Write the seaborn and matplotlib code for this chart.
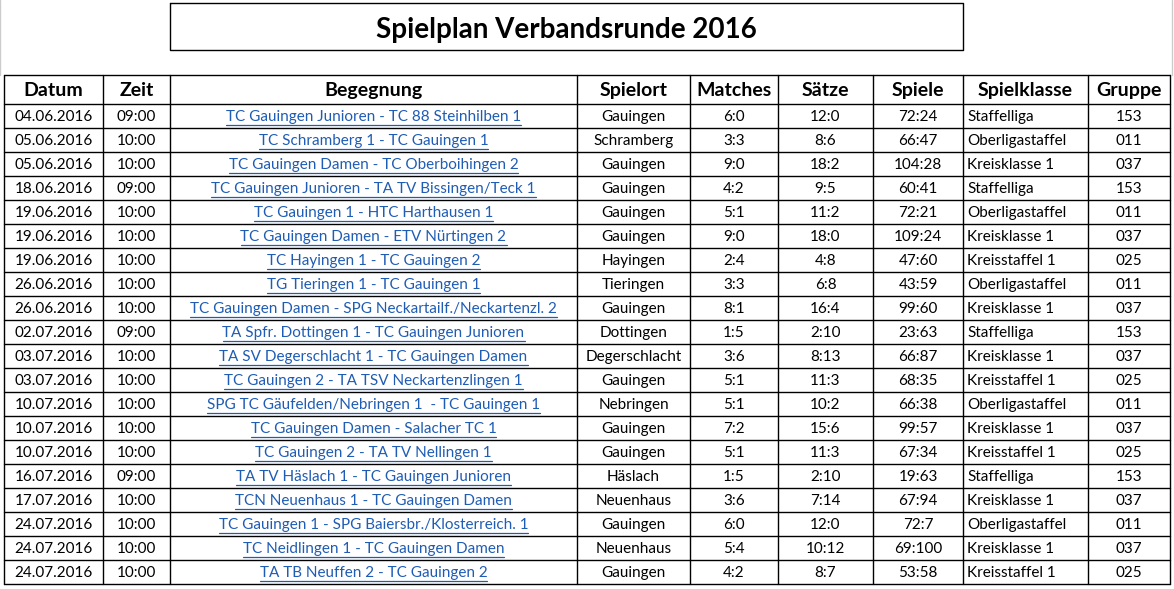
import matplotlib
matplotlib.use("Agg")
import matplotlib.pyplot as plt
import seaborn as sns

sns.set_theme(style="white", font="Lato")

title = "Spielplan Verbandsrunde 2016"
headers = ["Datum", "Zeit", "Begegnung", "Spielort", "Matches", "Sätze", "Spiele", "Spielklasse", "Gruppe"]
datum = ["04.06.2016","05.06.2016","05.06.2016","18.06.2016","19.06.2016","19.06.2016","19.06.2016","26.06.2016","26.06.2016","02.07.2016","03.07.2016","03.07.2016","10.07.2016","10.07.2016","10.07.2016","16.07.2016","17.07.2016","24.07.2016","24.07.2016","24.07.2016"]
zeit = ["09:00","10:00","10:00","09:00","10:00","10:00","10:00","10:00","10:00","09:00","10:00","10:00","10:00","10:00","10:00","09:00","10:00","10:00","10:00","10:00"]
begegnung = ["TC Gauingen Junioren - TC 88 Steinhilben 1","TC Schramberg 1 - TC Gauingen 1","TC Gauingen Damen - TC Oberboihingen 2","TC Gauingen Junioren - TA TV Bissingen/Teck 1","TC Gauingen 1 - HTC Harthausen 1","TC Gauingen Damen - ETV Nürtingen 2","TC Hayingen 1 - TC Gauingen 2","TG Tieringen 1 - TC Gauingen 1","TC Gauingen Damen - SPG Neckartailf./Neckartenzl. 2","TA Spfr. Dottingen 1 - TC Gauingen Junioren","TA SV Degerschlacht 1 - TC Gauingen Damen","TC Gauingen 2 - TA TSV Neckartenzlingen 1","SPG TC Gäufelden/Nebringen 1  - TC Gauingen 1","TC Gauingen Damen - Salacher TC 1","TC Gauingen 2 - TA TV Nellingen 1","TA TV Häslach 1 - TC Gauingen Junioren","TCN Neuenhaus 1 - TC Gauingen Damen","TC Gauingen 1 - SPG Baiersbr./Klosterreich. 1","TC Neidlingen 1 - TC Gauingen Damen","TA TB Neuffen 2 - TC Gauingen 2"]
spielort = ["Gauingen","Schramberg","Gauingen","Gauingen","Gauingen","Gauingen","Hayingen","Tieringen","Gauingen","Dottingen","Degerschlacht","Gauingen","Nebringen","Gauingen","Gauingen","Häslach","Neuenhaus","Gauingen","Neuenhaus","Gauingen"]
matches = ["6:0","3:3","9:0","4:2","5:1","9:0","2:4","3:3","8:1","1:5","3:6","5:1","5:1","7:2","5:1","1:5","3:6","6:0","5:4","4:2"]
saetze = ["12:0","8:6","18:2","9:5","11:2","18:0","4:8","6:8","16:4","2:10","8:13","11:3","10:2","15:6","11:3","2:10","7:14","12:0","10:12","8:7"]
spiele = ["72:24","66:47","104:28","60:41","72:21","109:24","47:60","43:59","99:60","23:63","66:87","68:35","66:38","99:57","67:34","19:63","67:94","72:7","69:100","53:58"]
spielklasse = ["Staffelliga","Oberligastaffel","Kreisklasse 1","Staffelliga","Oberligastaffel","Kreisklasse 1","Kreisstaffel 1","Oberligastaffel","Kreisklasse 1","Staffelliga","Kreisklasse 1","Kreisstaffel 1","Oberligastaffel","Kreisklasse 1","Kreisstaffel 1","Staffelliga","Kreisklasse 1","Oberligastaffel","Kreisklasse 1","Kreisstaffel 1"]
gruppe = ["153","011","037","153","011","037","025","011","037","153","037","025","011","037","025","153","037","011","037","025"]

cols = [datum, zeit, begegnung, spielort, matches, saetze, spiele, spielklasse, gruppe]
edges = [4, 103, 170, 577, 690, 778, 873, 963, 1088, 1170]
W, H = 1174, 589
fig = plt.figure(figsize=(W/100, H/100), dpi=100)
ax = fig.add_axes([0, 0, 1, 1])
ax.set_xlim(0, W); ax.set_ylim(H, 0); ax.axis("off")

# title box
ax.plot([170, 963, 963, 170, 170], [3, 3, 50, 50, 3], color="black", lw=1)
ax.text(566, 30, title, ha="center", va="center", fontsize=20, fontweight="bold", color="black")
ax.plot([0, 0], [0, 75], color="#cccccc", lw=1)
ax.plot([1172, 1172], [0, 75], color="#cccccc", lw=1)

top, hh, rh = 75, 29, 24
nrows = len(datum)
bottom = top + hh + rh * nrows
for i in range(nrows + 2):
    y = top if i == 0 else top + hh + rh * (i - 1)
    ax.plot([edges[0], edges[-1]], [y, y], color="black", lw=1)
for x in edges:
    ax.plot([x, x], [top, bottom], color="black", lw=1)

for j, h in enumerate(headers):
    ax.text((edges[j] + edges[j+1]) / 2, top + hh/2 + 1, h, ha="center", va="center",
            fontsize=14, fontweight="bold", color="black")

link = "#1f5cb4"
texts = []
for j, col in enumerate(cols):
    for i, v in enumerate(col):
        y = top + hh + rh * i + rh/2 + 1
        if j == 7:
            x, ha = edges[j] + 4, "left"
        else:
            x, ha = (edges[j] + edges[j+1]) / 2, "center"
        t = ax.text(x, y, v, ha=ha, va="center", fontsize=11,
                    color=link if j == 2 else "black")
        if j == 2:
            texts.append((t, y))

fig.canvas.draw()
r = fig.canvas.get_renderer()
inv = ax.transData.inverted()
for t, y in texts:
    bb = t.get_window_extent(r)
    (x0, _), (x1, _) = inv.transform([(bb.x0, bb.y0), (bb.x1, bb.y1)])
    ax.plot([x0, x1], [y + 8, y + 8], color=link, lw=0.9)

fig.savefig("out.png", dpi=100, facecolor="white")
